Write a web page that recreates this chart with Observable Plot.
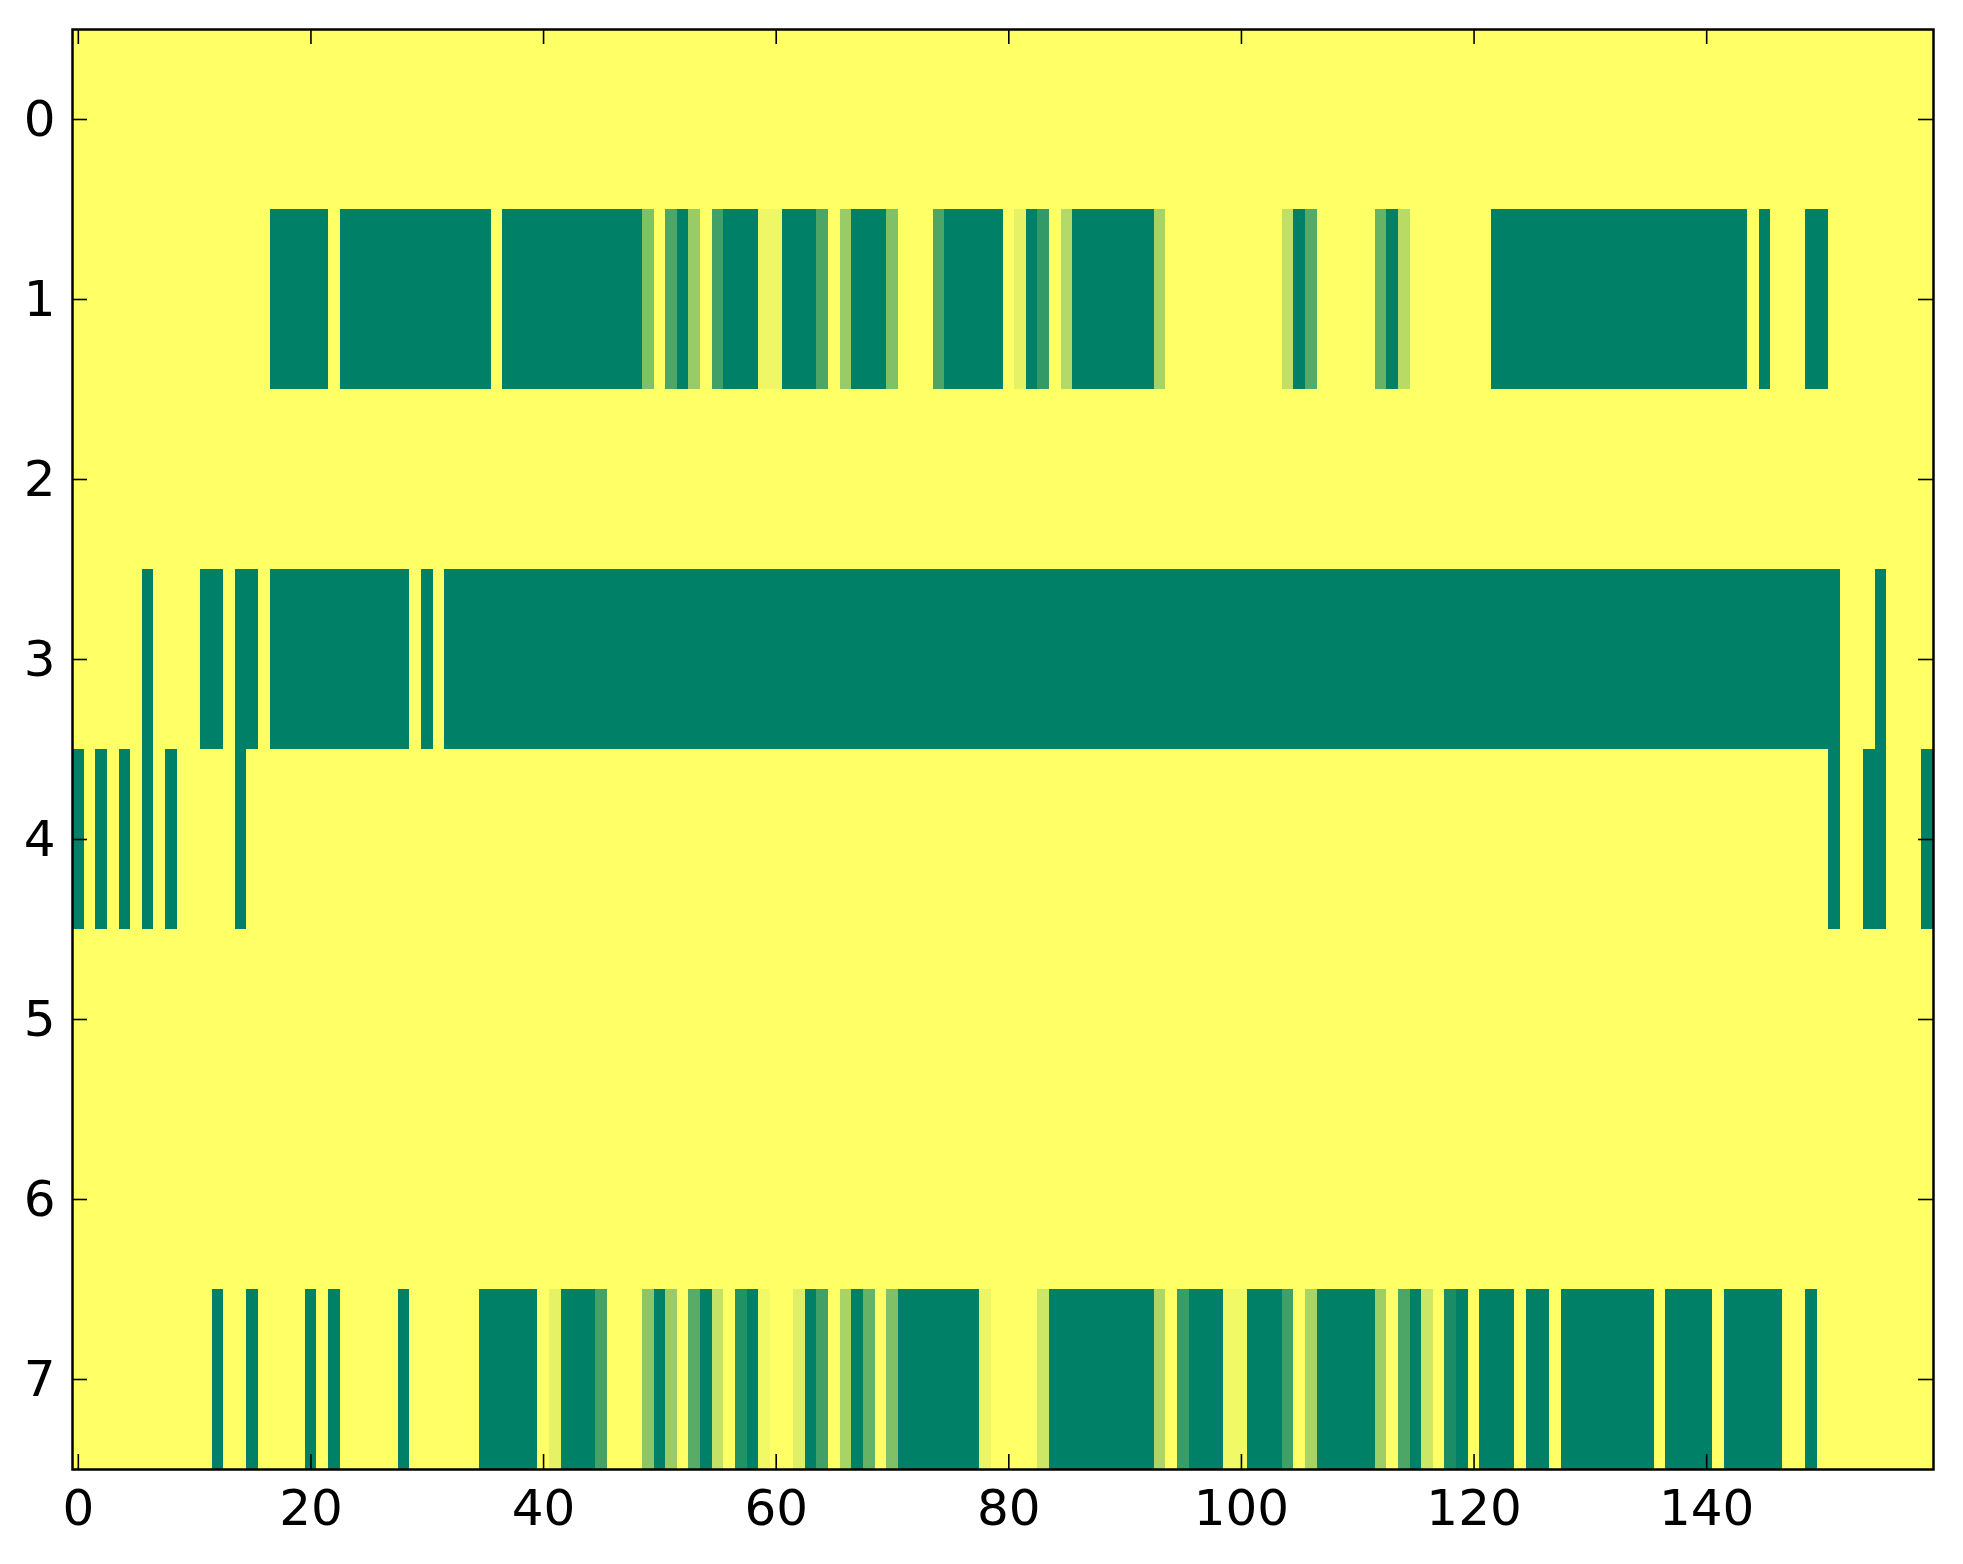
<!DOCTYPE html>
<html>
<head>
<meta charset="utf-8">
<script src="https://cdn.jsdelivr.net/npm/d3@7"></script>
<script src="https://cdn.jsdelivr.net/npm/@observablehq/plot@0.6"></script>
<style>
  html, body { margin: 0; padding: 0; background: #ffffff; }
  #chart { width: 1963px; height: 1564px; }
</style>
</head>
<body>
<div id="chart"></div>
<script>
// Row labels (y) and tick labels
const rowIds = [0, 1, 2, 3, 4, 5, 6, 7];
const xTicks = [0, 20, 40, 60, 80, 100, 120, 140];
const yTicks = [0, 1, 2, 3, 4, 5, 6, 7];

// Cell values per row (160 columns each), 0 = green, 1 = yellow
const row0 = [
  1,1,1,1,1,1,1,1,1,1, 1,1,1,1,1,1,1,1,1,1, 1,1,1,1,1,1,1,1,1,1, 1,1,1,1,1,1,1,1,1,1,
  1,1,1,1,1,1,1,1,1,1, 1,1,1,1,1,1,1,1,1,1, 1,1,1,1,1,1,1,1,1,1, 1,1,1,1,1,1,1,1,1,1,
  1,1,1,1,1,1,1,1,1,1, 1,1,1,1,1,1,1,1,1,1, 1,1,1,1,1,1,1,1,1,1, 1,1,1,1,1,1,1,1,1,1,
  1,1,1,1,1,1,1,1,1,1, 1,1,1,1,1,1,1,1,1,1, 1,1,1,1,1,1,1,1,1,1, 1,1,1,1,1,1,1,1,1,1
];
const row1 = [
  1,1,1,1,1,1,1,1,1,1,
  1,1,1,1,1,1,1,0,0,0,
  0,0,1,0,0,0,0,0,0,0,
  0,0,0,0,0,0,1,0,0,0,
  0,0,0,0,0,0,0,0,0,0.5,
  1,0.3,0,0.6,1,0.25,0,0,0,0.94,
  0.94,0,0,0,0.3,1,0.6,0,0,0,
  0.5,1,1,1,0.3,0,0,0,0,0,
  1,0.9,0,0.2,1,0.7,0,0,0,0,
  0,0,0,0.65,1,1,1,1,1,1,
  1,1,1,1,0.75,0,0.33,1,1,1,
  1,1,0.4,0,0.72,1,1,1,1,1,
  1,1,0,0,0,0,0,0,0,0,
  0,0,0,0,0,0,0,0,0,0,
  0,0,0,0,1,0,1,1,1,0,
  0,1,1,1,1,1,1,1,1,1
];
const row2 = [
  1,1,1,1,1,1,1,1,1,1, 1,1,1,1,1,1,1,1,1,1, 1,1,1,1,1,1,1,1,1,1, 1,1,1,1,1,1,1,1,1,1,
  1,1,1,1,1,1,1,1,1,1, 1,1,1,1,1,1,1,1,1,1, 1,1,1,1,1,1,1,1,1,1, 1,1,1,1,1,1,1,1,1,1,
  1,1,1,1,1,1,1,1,1,1, 1,1,1,1,1,1,1,1,1,1, 1,1,1,1,1,1,1,1,1,1, 1,1,1,1,1,1,1,1,1,1,
  1,1,1,1,1,1,1,1,1,1, 1,1,1,1,1,1,1,1,1,1, 1,1,1,1,1,1,1,1,1,1, 1,1,1,1,1,1,1,1,1,1
];
const row3 = [
  1,1,1,1,1,1,0,1,1,1,
  1,0,0,1,0,0,1,0,0,0,
  0,0,0,0,0,0,0,0,0,1,
  0,1,0,0,0,0,0,0,0,0,
  0,0,0,0,0,0,0,0,0,0,
  0,0,0,0,0,0,0,0,0,0,
  0,0,0,0,0,0,0,0,0,0,
  0,0,0,0,0,0,0,0,0,0,
  0,0,0,0,0,0,0,0,0,0,
  0,0,0,0,0,0,0,0,0,0,
  0,0,0,0,0,0,0,0,0,0,
  0,0,0,0,0,0,0,0,0,0,
  0,0,0,0,0,0,0,0,0,0,
  0,0,0,0,0,0,0,0,0,0,
  0,0,0,0,0,0,0,0,0,0,
  0,0,1,1,1,0,1,1,1,1
];
const row4 = [
  0,1,0,1,0,1,0,1,0,1,
  1,1,1,1,0,1,1,1,1,1,
  1,1,1,1,1,1,1,1,1,1,
  1,1,1,1,1,1,1,1,1,1,
  1,1,1,1,1,1,1,1,1,1,
  1,1,1,1,1,1,1,1,1,1,
  1,1,1,1,1,1,1,1,1,1,
  1,1,1,1,1,1,1,1,1,1,
  1,1,1,1,1,1,1,1,1,1,
  1,1,1,1,1,1,1,1,1,1,
  1,1,1,1,1,1,1,1,1,1,
  1,1,1,1,1,1,1,1,1,1,
  1,1,1,1,1,1,1,1,1,1,
  1,1,1,1,1,1,1,1,1,1,
  1,1,1,1,1,1,1,1,1,1,
  1,0,1,1,0,0,1,1,1,0
];
const row5 = [
  1,1,1,1,1,1,1,1,1,1, 1,1,1,1,1,1,1,1,1,1, 1,1,1,1,1,1,1,1,1,1, 1,1,1,1,1,1,1,1,1,1,
  1,1,1,1,1,1,1,1,1,1, 1,1,1,1,1,1,1,1,1,1, 1,1,1,1,1,1,1,1,1,1, 1,1,1,1,1,1,1,1,1,1,
  1,1,1,1,1,1,1,1,1,1, 1,1,1,1,1,1,1,1,1,1, 1,1,1,1,1,1,1,1,1,1, 1,1,1,1,1,1,1,1,1,1,
  1,1,1,1,1,1,1,1,1,1, 1,1,1,1,1,1,1,1,1,1, 1,1,1,1,1,1,1,1,1,1, 1,1,1,1,1,1,1,1,1,1
];
const row6 = [
  1,1,1,1,1,1,1,1,1,1, 1,1,1,1,1,1,1,1,1,1, 1,1,1,1,1,1,1,1,1,1, 1,1,1,1,1,1,1,1,1,1,
  1,1,1,1,1,1,1,1,1,1, 1,1,1,1,1,1,1,1,1,1, 1,1,1,1,1,1,1,1,1,1, 1,1,1,1,1,1,1,1,1,1,
  1,1,1,1,1,1,1,1,1,1, 1,1,1,1,1,1,1,1,1,1, 1,1,1,1,1,1,1,1,1,1, 1,1,1,1,1,1,1,1,1,1,
  1,1,1,1,1,1,1,1,1,1, 1,1,1,1,1,1,1,1,1,1, 1,1,1,1,1,1,1,1,1,1, 1,1,1,1,1,1,1,1,1,1
];
const row7 = [
  1,1,1,1,1,1,1,1,1,1,
  1,1,0,1,1,0,1,1,1,1,
  0,1,0,1,1,1,1,1,0,1,
  1,1,1,1,1,0,0,0,0,0,
  1,0.9,0,0,0,0.27,1,1,1,0.55,
  0,0.6,1,0.35,0,0.77,1,0.13,0,0.95,
  1,1,0.88,0,0.25,1,0.66,0,0.4,1,
  0.5,0,0,0,0,0,0,0,0.92,1,
  1,1,1,0.8,0,0,0,0,0,0,
  0,0,0,0.68,1,0.23,0,0,0,0.95,
  0.95,0,0,0,0.25,1,0.66,0,0,0,
  0,0,0.62,1,0.3,0,0.8,1,0.1,0,
  1,0,0,0,1,0,0,1,0,0,
  0,0,0,0,0,0,1,0,0,0,
  0,1,0,0,0,0,0,1,1,0,
  1,1,1,1,1,1,1,1,1,1
];

const rows = [row0, row1, row2, row3, row4, row5, row6, row7];

// Build the cell table from the arrays
const cells = [];
rowIds.forEach((r, i) => {
  rows[i].forEach((v, c) => cells.push({row: r, col: c, value: v}));
});

const W = 1963, H = 1564;
const mL = 72, mR = 30, mT = 29, mB = 95;
const pxPerX = (W - mL - mR) / 160;   // pixels per column
const pxPerY = (H - mT - mB) / 8;     // pixels per row
const tickLen = 15;
const tx = tickLen / pxPerX;          // tick length in x units
const ty = tickLen / pxPerY;          // tick length in y units

const chart = Plot.plot({
  width: W,
  height: H,
  marginLeft: mL,
  marginRight: mR,
  marginTop: mT,
  marginBottom: mB,
  style: {fontFamily: "'DejaVu Sans', sans-serif", fontSize: "50px", background: "#ffffff", color: "#000000"},
  x: {domain: [-0.5, 159.5], label: null},
  y: {domain: [-0.5, 7.5], reverse: true, label: null},
  color: {type: "linear", domain: [0, 1], range: ["#008066", "#ffff66"], interpolate: "rgb"},
  marks: [
    Plot.rect(cells, {
      x1: d => d.col - 0.5,
      x2: d => d.col + 0.5,
      y1: d => d.row - 0.5,
      y2: d => d.row + 0.5,
      fill: "value",
      shapeRendering: "crispEdges"
    }),
    // inward ticks, bottom and top
    Plot.ruleX(xTicks, {x: d => d, y1: 7.5, y2: 7.5 - ty, stroke: "black", strokeWidth: 1.6}),
    Plot.ruleX(xTicks, {x: d => d, y1: -0.5, y2: -0.5 + ty, stroke: "black", strokeWidth: 1.6}),
    // inward ticks, left and right
    Plot.ruleY(yTicks, {y: d => d, x1: -0.5, x2: -0.5 + tx, stroke: "black", strokeWidth: 1.6}),
    Plot.ruleY(yTicks, {y: d => d, x1: 159.5, x2: 159.5 - tx, stroke: "black", strokeWidth: 1.6}),
    Plot.axisX({ticks: xTicks, tickSize: 0, tickPadding: 20, label: null, tickFormat: d => String(d)}),
    Plot.axisY({ticks: yTicks, tickSize: 0, tickPadding: 17, label: null, tickFormat: d => String(d)}),
    Plot.frame({stroke: "black", strokeWidth: 2.5})
  ]
});

document.getElementById("chart").appendChild(chart);
</script>
</body>
</html>
